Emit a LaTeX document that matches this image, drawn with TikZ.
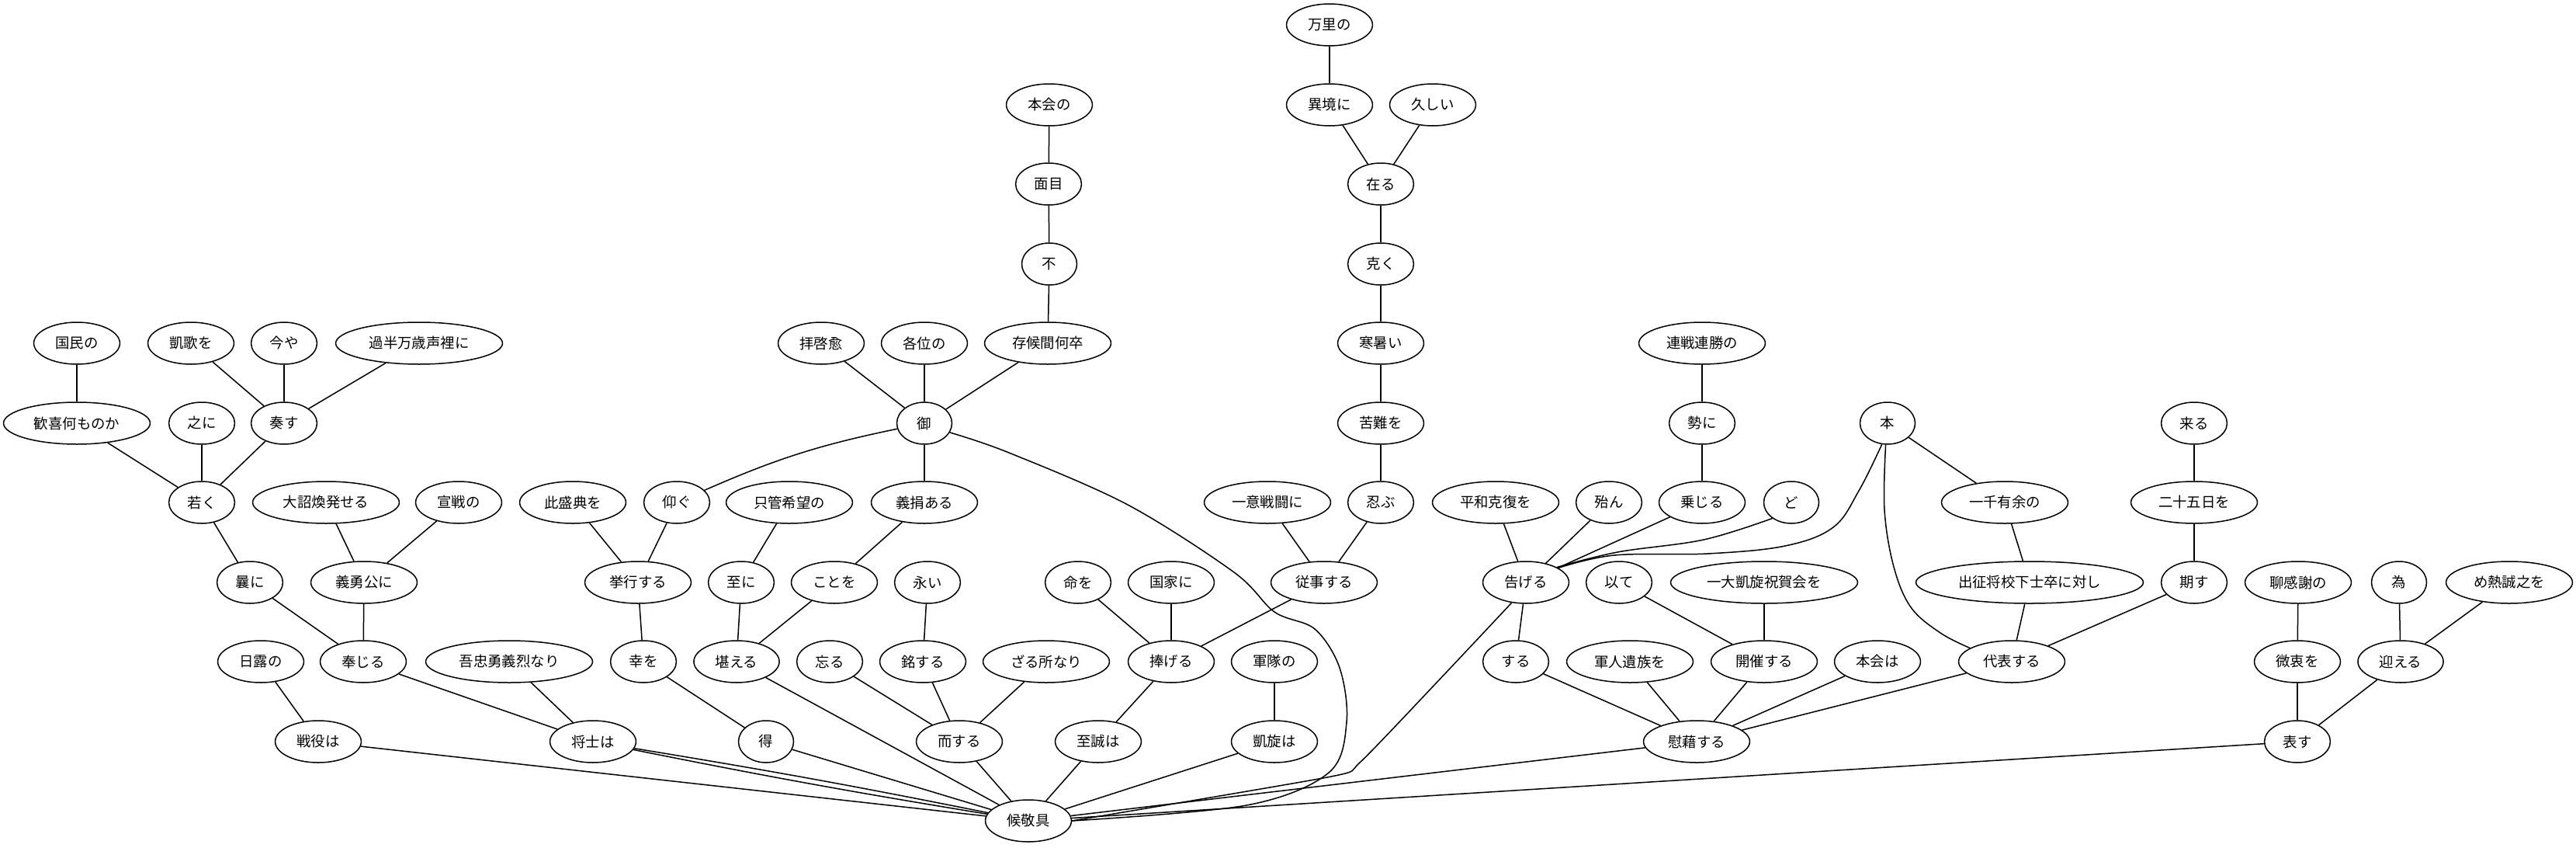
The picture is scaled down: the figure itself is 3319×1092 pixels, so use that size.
\documentclass[tikz,border=0pt]{standalone}
\usepackage{fontspec}
\newfontfamily\jpfont{Noto Sans CJK JP}
\usetikzlibrary{shapes.geometric}
\begin{document}
\begin{tikzpicture}[x=1pt,y=-1pt,
  wn/.style={ellipse,draw,line width=1.5pt,inner xsep=11.6pt,inner ysep=0pt,
    minimum width=71pt,minimum height=54pt,
    font=\jpfont\fontsize{18.4pt}{22pt}\selectfont},
  ed/.style={line width=1.5pt}]
\useasboundingbox (0,0) rectangle (3319,1092);
% level 0-3
\node[wn] (manri) at (1713,32) {万里の};
\node[wn] (honkaino) at (1352,135) {本会の};
\node[wn] (ikyou) at (1713,135) {異境に};
\node[wn] (hisashii) at (1846,135) {久しい};
\node[wn] (menboku) at (1351,237) {面目};
\node[wn] (aru) at (1779,237) {在る};
\node[wn] (fu) at (1352,340) {不};
\node[wn] (yoku) at (1779,340) {克く};
% level 4
\node[wn] (kokumin) at (99,442) {国民の};
\node[wn] (gaika) at (246,442) {凱歌を};
\node[wn] (imaya) at (366,442) {今や};
\node[wn] (kahan) at (540,442) {過半万歳声裡に};
\node[wn] (haikei) at (1058,442) {拝啓愈};
\node[wn] (kakui) at (1191,442) {各位の};
\node[wn] (zonsoro) at (1350,442) {存候間何卒};
\node[wn] (kansho) at (1779,442) {寒暑い};
\node[wn] (rensen) at (2193,442) {連戦連勝の};
% level 5
\node[wn] (kanki) at (99,545) {歓喜何ものか};
\node[wn] (koreni) at (260,545) {之に};
\node[wn] (sousu) at (366,545) {奏す};
\node[wn] (go) at (1191,545) {御};
\node[wn] (kunan) at (1779,545) {苦難を};
\node[wn] (ikioi) at (2193,545) {勢に};
\node[wn] (hon) at (2432,545) {本};
\node[wn] (kitaru) at (2827,545) {来る};
% level 6
\node[wn] (wakaku) at (260,647) {若く};
\node[wn] (taishou) at (420,647) {大詔煥発せる};
\node[wn] (sensen) at (591,647) {宣戦の};
\node[wn] (seiten) at (738,647) {此盛典を};
\node[wn] (aogu) at (872,647) {仰ぐ};
\node[wn] (shikan) at (1017,647) {只管希望の};
\node[wn] (gien) at (1191,647) {義捐ある};
\node[wn] (ichii) at (1633,647) {一意戦闘に};
\node[wn] (shinobu) at (1779,647) {忍ぶ};
\node[wn] (heiwa) at (1927,647) {平和克復を};
\node[wn] (hotohon) at (2073,647) {殆ん};
\node[wn] (joujiru) at (2193,647) {乗じる};
\node[wn] (do) at (2308,647) {ど};
\node[wn] (issen) at (2583,647) {一千有余の};
\node[wn] (nijugo) at (2827,647) {二十五日を};
% level 7
\node[wn] (sakini) at (322,750) {曩に};
\node[wn] (giyuu) at (469,750) {義勇公に};
\node[wn] (kyokou) at (822,750) {挙行する};
\node[wn] (itaru) at (955,750) {至に};
\node[wn] (kotowo) at (1075,750) {ことを};
\node[wn] (nagai) at (1195,750) {永い};
\node[wn] (inochi) at (1389,750) {命を};
\node[wn] (kokka) at (1509,750) {国家に};
\node[wn] (juuji) at (1706,750) {従事する};
\node[wn] (tsugeru) at (1966,750) {告げる};
\node[wn] (motte) at (2086,750) {以て};
\node[wn] (ichidai) at (2273,750) {一大凱旋祝賀会を};
\node[wn] (shussei) at (2615,750) {出征将校下士卒に対し};
\node[wn] (kisu) at (2827,750) {期す};
\node[wn] (isasaka) at (2961,750) {聊感謝の};
\node[wn] (tame) at (3091,750) {為};
\node[wn] (mene) at (3233,750) {め熱誠之を};
% level 8
\node[wn] (nichiro) at (336,852) {日露の};
\node[wn] (houjiru) at (468,852) {奉じる};
\node[wn] (gochuu) at (656,852) {吾忠勇義烈なり};
\node[wn] (saiwai) at (829,852) {幸を};
\node[wn] (taeru) at (949,852) {堪える};
\node[wn] (wasuru) at (1069,852) {忘る};
\node[wn] (meisuru) at (1189,852) {銘する};
\node[wn] (zaru) at (1348,852) {ざる所なり};
\node[wn] (sasageru) at (1509,852) {捧げる};
\node[wn] (guntai) at (1642,852) {軍隊の};
\node[wn] (suru) at (1953,852) {する};
\node[wn] (gunjin) at (2100,852) {軍人遺族を};
\node[wn] (kaisai) at (2273,852) {開催する};
\node[wn] (honkaiha) at (2419,852) {本会は};
\node[wn] (daihyou) at (2592,852) {代表する};
\node[wn] (bichuu) at (2960,852) {微衷を};
\node[wn] (mukaeru) at (3093,852) {迎える};
% level 9
\node[wn] (seneki) at (410,955) {戦役は};
\node[wn] (shoushi) at (764,955) {将士は};
\node[wn] (eru) at (987,955) {得};
\node[wn] (jisuru) at (1236,955) {而する};
\node[wn] (shisei) at (1415,955) {至誠は};
\node[wn] (gaisen) at (1642,955) {凱旋は};
\node[wn] (isha) at (2186,955) {慰藉する};
\node[wn] (arawasu) at (2960,955) {表す};
% level 10
\node[wn] (keigu) at (1325,1057) {候敬具};

% edges
\draw[ed] (honkaino) -- (menboku);
\draw[ed] (menboku) -- (fu);
\draw[ed] (fu) -- (zonsoro);
\draw[ed] (manri) -- (ikyou);
\draw[ed] (ikyou) -- (aru);
\draw[ed] (hisashii) -- (aru);
\draw[ed] (aru) -- (yoku);
\draw[ed] (yoku) -- (kansho);
\draw[ed] (kansho) -- (kunan);
\draw[ed] (kunan) -- (shinobu);
\draw[ed] (shinobu) -- (juuji);
\draw[ed] (ichii) -- (juuji);
\draw[ed] (juuji) -- (sasageru);

\draw[ed] (kokumin) -- (kanki);
\draw[ed] (gaika) -- (sousu);
\draw[ed] (imaya) -- (sousu);
\draw[ed] (kahan) -- (sousu);
\draw[ed] (kanki) -- (wakaku);
\draw[ed] (koreni) -- (wakaku);
\draw[ed] (sousu) -- (wakaku);
\draw[ed] (wakaku) -- (sakini);
\draw[ed] (taishou) -- (giyuu);
\draw[ed] (sensen) -- (giyuu);
\draw[ed] (sakini) -- (houjiru);
\draw[ed] (giyuu) -- (houjiru);
\draw[ed] (houjiru) -- (shoushi);
\draw[ed] (gochuu) -- (shoushi);
\draw[ed] (nichiro) -- (seneki);
\draw[ed] (seneki) -- (keigu);
\draw[ed] (shoushi) to[bend left=1] (keigu);
\draw[ed] (shoushi) to[bend right=1] (keigu);

\draw[ed] (haikei) -- (go);
\draw[ed] (kakui) -- (go);
\draw[ed] (zonsoro) -- (go);
\draw[ed] (go) to[bend right=6] (aogu);
\draw[ed] (go) -- (gien);
\draw[ed] plot[smooth,tension=0.55] coordinates {(go.-20) (1300,583) (1453,650) (1590,737) (1642,788) (1694,810) (1726,860) (1735,930) (1712,995) (1606,1037) (keigu.east)};

\draw[ed] (seiten) -- (kyokou);
\draw[ed] (aogu) -- (kyokou);
\draw[ed] (kyokou) -- (saiwai);
\draw[ed] (saiwai) -- (eru);
\draw[ed] (eru) -- (keigu);
\draw[ed] (shikan) -- (itaru);
\draw[ed] (itaru) -- (taeru);
\draw[ed] (gien) -- (kotowo);
\draw[ed] (kotowo) -- (taeru);
\draw[ed] (taeru) -- (keigu);
\draw[ed] (nagai) -- (meisuru);
\draw[ed] (wasuru) -- (jisuru);
\draw[ed] (meisuru) -- (jisuru);
\draw[ed] (zaru) -- (jisuru);
\draw[ed] (jisuru) -- (keigu);
\draw[ed] (inochi) -- (sasageru);
\draw[ed] (kokka) -- (sasageru);
\draw[ed] (sasageru) -- (shisei);
\draw[ed] (shisei) -- (keigu);
\draw[ed] (guntai) -- (gaisen);
\draw[ed] (gaisen) -- (keigu);

\draw[ed] (rensen) -- (ikioi);
\draw[ed] (ikioi) -- (joujiru);
\draw[ed] (heiwa) -- (tsugeru);
\draw[ed] (hotohon) -- (tsugeru);
\draw[ed] (joujiru) -- (tsugeru);
\draw[ed] plot[smooth,tension=0.6] coordinates {(do.-140) (2195,695) (2084,711) (tsugeru.26)};
\draw[ed] plot[smooth,tension=0.6] coordinates {(hon.-105) (2395,632) (2362,679) (2300,703) (2200,713) (2080,715) (tsugeru.24)};
\draw[ed] (tsugeru) -- (suru);
\draw[ed] plot[smooth,tension=0.35] coordinates {(tsugeru.-125) (1850,880) (1752,982) (1715,1000) (keigu.east)};

\draw[ed] (suru) -- (isha);
\draw[ed] (gunjin) -- (isha);
\draw[ed] (motte) -- (kaisai);
\draw[ed] (ichidai) -- (kaisai);
\draw[ed] (kaisai) -- (isha);
\draw[ed] (honkaiha) -- (isha);
\draw[ed] (daihyou) -- (isha);
\draw[ed] (isha) -- (keigu);

\draw[ed] (hon) -- (issen);
\draw[ed] (issen) -- (shussei);
\draw[ed] (shussei) -- (daihyou);
\draw[ed] plot[smooth,tension=0.6] coordinates {(hon.-95) (2428,657) (2440,730) (2462,782) (2500,815) (daihyou.162)};
\draw[ed] (kitaru) -- (nijugo);
\draw[ed] (nijugo) -- (kisu);
\draw[ed] (kisu) -- (daihyou);

\draw[ed] (isasaka) -- (bichuu);
\draw[ed] (bichuu) -- (arawasu);
\draw[ed] (tame) -- (mukaeru);
\draw[ed] (mene) -- (mukaeru);
\draw[ed] (mukaeru) -- (arawasu);
\draw[ed] (arawasu) -- (keigu);
\end{tikzpicture}
\end{document}
